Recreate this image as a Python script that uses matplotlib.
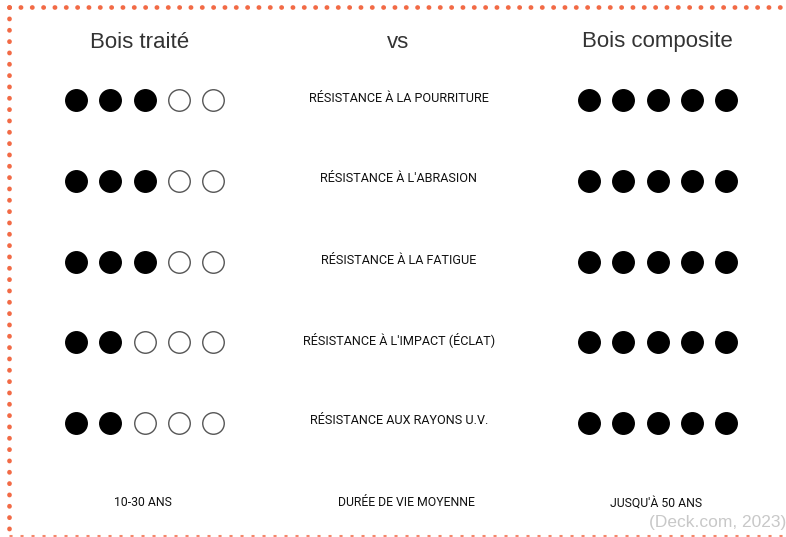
import matplotlib.pyplot as plt

criteria = [
    "RÉSISTANCE À LA POURRITURE",
    "RÉSISTANCE À L'ABRASION",
    "RÉSISTANCE À LA FATIGUE",
    "RÉSISTANCE À L'IMPACT (ÉCLAT)",
    "RÉSISTANCE AUX RAYONS U.V.",
]
treated_scores = [3, 3, 3, 2, 2]
composite_scores = [5, 5, 5, 5, 5]
max_score = 5
lifespan_label = "DURÉE DE VIE MOYENNE"
treated_life = "10-30 ANS"
composite_life = "JUSQU'À 50 ANS"
source = "(Deck.com, 2023)"

plt.rcParams['font.family'] = ['Roboto', 'DejaVu Sans']

fig = plt.figure(figsize=(7.86, 5.37), dpi=100)
ax = fig.add_axes([0, 0, 1, 1])
ax.set_xlim(0, 786)
ax.set_ylim(537, 0)
ax.axis('off')

orange = '#f26a45'
# dotted frame
dots = dict(color=orange, lw=3.4, ls=(0, (0.05, 2.35)), dash_capstyle='round', clip_on=False)
ax.plot([9, 786], [7, 7], **dots)
ax.plot([9, 9], [7, 535], **dots)
ax.plot([9, 786], [535.5, 535.5], color=orange, lw=2.2, ls=(0, (1, 2.6)), alpha=0.8)

row_y = [100, 181, 262, 342, 423]
left_x0, right_x0, step = 76, 589, 34.3

for i, y in enumerate(row_y):
    for k in range(max_score):
        filled = k < treated_scores[i]
        ax.scatter(left_x0 + k * step, y, s=240, marker='o',
                   facecolor='black' if filled else 'white',
                   edgecolor='black' if filled else '#555555', linewidth=1.0, zorder=3)
        filled = k < composite_scores[i]
        ax.scatter(right_x0 + k * step, y, s=240, marker='o',
                   facecolor='black' if filled else 'white',
                   edgecolor='black' if filled else '#555555', linewidth=1.0, zorder=3)
    ax.text(399, y - 2, criteria[i], ha='center', va='center', fontsize=9.1, color='#111111')

head_font = ['Liberation Sans', 'DejaVu Sans']
ax.text(140, 42, "Bois traité", ha='center', va='center', fontsize=16, color='#333333', family=head_font)
ax.text(398, 42, "vs", ha='center', va='center', fontsize=16, color='#333333', family=head_font)
ax.text(657, 42, "Bois composite", ha='center', va='center', fontsize=16, color='#333333', family=head_font)

ax.text(143, 503, treated_life, ha='center', va='center', fontsize=8.8, color='#111111')
ax.text(406, 503, lifespan_label, ha='center', va='center', fontsize=8.8, color='#111111')
ax.text(656, 503, composite_life, ha='center', va='center', fontsize=8.8, color='#111111')
ax.text(786, 523, source, ha='right', va='center', fontsize=12.5, color='#c8c8c8', family=head_font)

fig.savefig('out.png', dpi=100)
